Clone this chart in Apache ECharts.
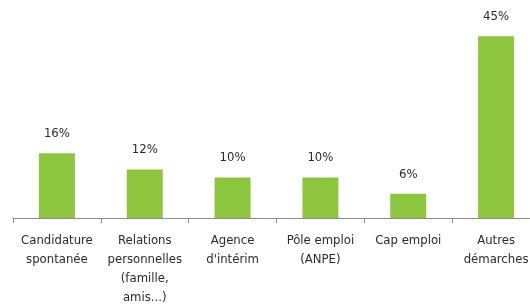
<!DOCTYPE html>
<html>
<head>
<meta charset="utf-8">
<script src="https://cdn.jsdelivr.net/npm/echarts@6/dist/echarts.min.js"></script>
<style>
	html, body { margin: 0; padding: 0; background: #fff; }
	#chart { width: 530px; height: 305px; }
</style>
</head>
<body>
<div id="chart"></div>
<script>
	// catégories et valeurs (%)
	var categories = [
		'Candidature\nspontanée',
		'Relations\npersonnelles\n(famille,\namis...)',
		'Agence\nd\'intérim',
		'Pôle emploi\n(ANPE)',
		'Cap emploi',
		'Autres\ndémarches'
	];
	var values = [16, 12, 10, 10, 6, 45];

	var chart = echarts.init(document.getElementById('chart'));
	var option = {
		animation: false,
		grid: {
			left: 13,
			right: -10,
			top: 16,
			bottom: 87,
			containLabel: false,
			outerBoundsMode: 'none'
		},
		xAxis: {
			type: 'category',
			data: categories,
			axisLine: { lineStyle: { color: '#8c8c8c', width: 1 } },
			axisTick: { show: true, length: 5, lineStyle: { color: '#8c8c8c' } },
			axisLabel: {
				color: '#2b2b2b',
				fontSize: 13,
				fontFamily: 'DejaVu Sans Condensed',
				lineHeight: 19,
				margin: 13,
				interval: 0
			}
		},
		yAxis: {
			type: 'value',
			min: 0,
			max: 50,
			show: false
		},
		series: [
			{
				type: 'bar',
				data: values,
				barWidth: 36,
				itemStyle: { color: '#8dc63f' },
				label: {
					show: true,
					position: 'top',
					distance: 13,
					formatter: '{c}%',
					color: '#2b2b2b',
					fontSize: 13,
					fontFamily: 'DejaVu Sans Condensed'
				}
			}
		]
	};
	chart.setOption(option);
</script>
</body>
</html>
